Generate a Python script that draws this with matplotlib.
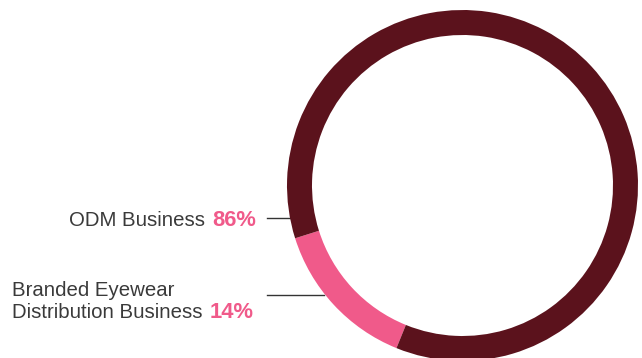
import matplotlib
matplotlib.use('Agg')
import matplotlib.pyplot as plt

# revenue share by business segment
segments = ['Branded Eyewear\nDistribution Business', 'ODM Business']
shares = [14, 86]
colors = ['#f05a8a', '#5b121c']

W, H = 642, 358
fig = plt.figure(figsize=(W / 100.0, H / 100.0), dpi=100)
fig.patch.set_facecolor('white')

# overlay in pixel coordinates for labels and leader lines
ax0 = fig.add_axes([0, 0, 1, 1])
ax0.set_xlim(0, W)
ax0.set_ylim(H, 0)
ax0.axis('off')

# donut
cx, cy, r = 462.5, 185.5, 175.5
ax = fig.add_axes([(cx - r) / W, (H - cy - r) / H, 2 * r / W, 2 * r / H])
ax.pie(shares, colors=colors, startangle=197.5, counterclock=True, radius=1,
       wedgeprops=dict(width=25 / r, edgecolor='none'))
ax.set_xlim(-1, 1)
ax.set_ylim(-1, 1)
ax.set_aspect('equal')
ax.axis('off')
for p in ax.patches:
    p.set_clip_on(False)

font = 'Liberation Sans'
txt = '#3a3a3a'
fs = 14.7
fs_pct = 15.8

# ODM label
ax0.text(205, 226, segments[1], ha='right', va='baseline', fontsize=fs,
         family=font, color=txt)
ax0.text(256, 226, '%d%%' % shares[1], ha='right', va='baseline', fontsize=fs_pct,
         family=font, color=colors[0], fontweight='bold')
ax0.plot([267, 292], [218, 218], color='#333333', lw=1)

# branded label
line1, line2 = segments[0].split('\n')
ax0.text(12, 296, line1, ha='left', va='baseline', fontsize=fs,
         family=font, color=txt)
ax0.text(12, 318, line2, ha='left', va='baseline',
         fontsize=fs, family=font, color=txt)
ax0.text(210, 318, '%d%%' % shares[0], ha='left', va='baseline', fontsize=fs_pct,
         family=font, color=colors[0], fontweight='bold')
ax0.plot([267, 324], [295, 295], color='#333333', lw=1)

plt.savefig('out.png', dpi=100)
plt.close('all')
